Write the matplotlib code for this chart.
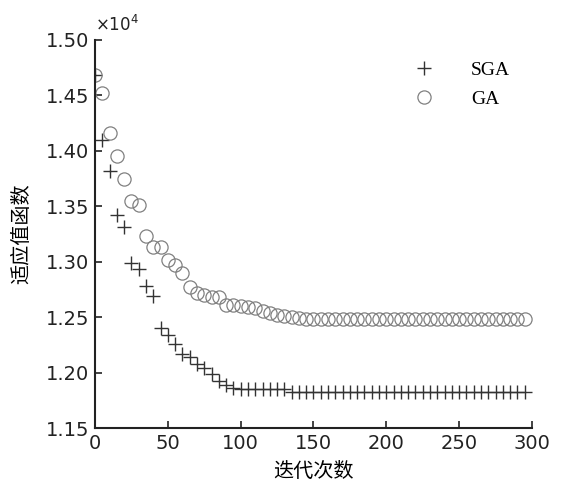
import matplotlib
matplotlib.use("Agg")
import matplotlib.pyplot as plt
import numpy as np

iters = list(range(0, 300, 5))

ga = [1.468, 1.452, 1.416, 1.395, 1.375, 1.355, 1.351, 1.323, 1.313, 1.313,
      1.302, 1.297, 1.290, 1.277, 1.272, 1.270, 1.268, 1.268, 1.261, 1.261,
      1.260, 1.259, 1.258, 1.256, 1.254, 1.252, 1.251, 1.250, 1.249] + [1.248] * 31

sga = [1.468, 1.410, 1.382, 1.342, 1.331, 1.299, 1.293, 1.278, 1.269, 1.240,
       1.234, 1.226, 1.217, 1.214, 1.208, 1.204, 1.199, 1.192, 1.189, 1.186,
       1.185, 1.185, 1.185, 1.185, 1.185, 1.185, 1.185] + [1.1825] * 33

xticks = [0, 50, 100, 150, 200, 250, 300]
yticks = [1.15, 1.20, 1.25, 1.30, 1.35, 1.40, 1.45, 1.50]

plt.rcParams['font.family'] = ['DejaVu Sans']
fig = plt.figure(figsize=(5.61, 4.86), dpi=100)
ax = fig.add_axes([0.1693, 0.1193, 0.779, 0.7984])

ax.plot(iters, sga, linestyle='none', marker='+', markersize=10, markeredgewidth=1.0,
        color='#333333', label='SGA')
ax.plot(iters, ga, linestyle='none', marker='o', markersize=9.5, markeredgewidth=0.9,
        markerfacecolor='none', markeredgecolor='#808080', label='GA')

ax.set_xlim(0, 300)
ax.set_ylim(1.15, 1.50)
ax.set_xticks(xticks)
ax.set_yticks(yticks)
ax.set_yticklabels([f"{v:.2f}" for v in yticks])
ax.tick_params(direction='in', length=5, width=1.2, labelsize=14, colors='#222222', pad=4)
for s in ['top', 'right']:
    ax.spines[s].set_visible(False)
for s in ['left', 'bottom']:
    ax.spines[s].set_linewidth(1.5)
    ax.spines[s].set_color('#222222')

ax.set_xlabel('迭代次数', family=['Noto Sans CJK SC', 'DejaVu Sans'], fontsize=14.5, labelpad=6)
ax.set_ylabel('适应值函数', family=['Noto Sans CJK SC', 'DejaVu Sans'], fontsize=14.5, labelpad=10)

ax.text(0.0, 1.012, '×10$^{4}$', transform=ax.transAxes, fontsize=12, color='#222222',
        ha='left', va='bottom')

leg = ax.legend(loc='upper right', bbox_to_anchor=(0.99, 0.99), frameon=False,
                prop={'family': 'Liberation Serif', 'size': 14}, handletextpad=1.4,
                labelspacing=0.6)

fig.savefig('out.png', dpi=100)
